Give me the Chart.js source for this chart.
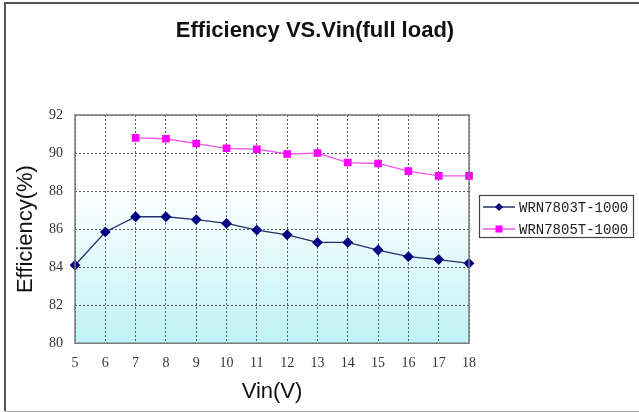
<!DOCTYPE html>
<html>
<head>
<meta charset="utf-8">
<script src="https://cdn.jsdelivr.net/npm/chart.js@4"></script>
<style>
  html, body { margin: 0; padding: 0; background: #fff; }
  #wrap { width: 639px; height: 412px; position: relative; }
</style>
</head>
<body>
<div id="wrap"><canvas id="effChart" width="639" height="412"></canvas></div>
<script>
// data
const chartTitle = 'Efficiency VS.Vin(full load)';
const vinLabels = ['5', '6', '7', '8', '9', '10', '11', '12', '13', '14', '15', '16', '17', '18'];
const wrn7803 = [84.1, 85.85, 86.65, 86.65, 86.5, 86.3, 85.95, 85.7, 85.3, 85.3, 84.9, 84.55, 84.4, 84.2];
const wrn7805 = [null, null, 90.8, 90.75, 90.5, 90.25, 90.2, 89.95, 90.0, 89.5, 89.45, 89.05, 88.8, 88.8];
const yTicks = [80, 82, 84, 86, 88, 90, 92];

const plotDecor = {
  id: 'plotDecor',
  beforeDraw(chart) {
    const ctx = chart.ctx;
    const a = chart.chartArea;
    ctx.save();
    const g = ctx.createLinearGradient(0, a.top, 0, a.bottom);
    g.addColorStop(0, '#ffffff');
    g.addColorStop(0.33, '#ffffff');
    g.addColorStop(1, '#bdf2f6');
    ctx.fillStyle = g;
    ctx.fillRect(a.left, a.top, a.right - a.left, a.bottom - a.top);
    ctx.restore();
  },
  afterDraw(chart) {
    const ctx = chart.ctx;
    const a = chart.chartArea;
    ctx.save();
    // plot frame
    ctx.strokeStyle = '#7a7a7a';
    ctx.lineWidth = 1.5;
    ctx.strokeRect(a.left, a.top, a.right - a.left, a.bottom - a.top);

    // outer frame (left, top, bottom)
    ctx.strokeStyle = '#555';
    ctx.lineWidth = 2;
    ctx.beginPath();
    ctx.moveTo(700, 3);
    ctx.lineTo(5, 3);
    ctx.lineTo(5, 411);
    ctx.stroke();
    ctx.strokeStyle = '#aaa';
    ctx.lineWidth = 1;
    ctx.beginPath();
    ctx.moveTo(5, 411.5);
    ctx.lineTo(639, 411.5);
    ctx.stroke();

    // title
    ctx.fillStyle = '#111';
    ctx.font = 'bold 22px Arial, "Liberation Sans", sans-serif';
    ctx.textAlign = 'center';
    ctx.textBaseline = 'middle';
    ctx.fillText(chartTitle, 315, 31);

    // legend box
    const bx = 479, by = 195, bw = 154, bh = 42;
    ctx.fillStyle = '#fff';
    ctx.fillRect(bx, by, bw, bh);
    ctx.strokeStyle = '#444';
    ctx.lineWidth = 1.2;
    ctx.strokeRect(bx + 0.5, by + 0.5, bw, bh);
    ctx.font = '14px "Liberation Mono", monospace';
    ctx.textAlign = 'left';
    ctx.textBaseline = 'middle';
    chart.data.datasets.forEach((ds, i) => {
      const y = by + 12 + i * 22;
      ctx.strokeStyle = ds.borderColor;
      ctx.lineWidth = 1.5;
      ctx.beginPath();
      ctx.moveTo(bx + 4, y);
      ctx.lineTo(bx + 36, y);
      ctx.stroke();
      ctx.fillStyle = ds.pointBackgroundColor;
      const cx = bx + 20;
      if (ds.pointStyle === 'rectRot') {
        ctx.beginPath();
        ctx.moveTo(cx, y - 4);
        ctx.lineTo(cx + 4, y);
        ctx.lineTo(cx, y + 4);
        ctx.lineTo(cx - 4, y);
        ctx.closePath();
        ctx.fill();
      } else {
        ctx.fillRect(cx - 3.5, y - 3.5, 7, 7);
      }
      ctx.fillStyle = '#222';
      ctx.fillText(ds.label, bx + 40, y + 1);
    });
    ctx.restore();
  }
};

new Chart(document.getElementById('effChart'), {
  type: 'line',
  data: {
    labels: vinLabels,
    datasets: [
      {
        label: 'WRN7803T-1000',
        data: wrn7803,
        borderColor: '#24306e',
        backgroundColor: '#000080',
        pointBackgroundColor: '#000080',
        pointBorderColor: '#000080',
        pointStyle: 'rectRot',
        pointRadius: 4.5,
        borderWidth: 1.3,
        tension: 0
      },
      {
        label: 'WRN7805T-1000',
        data: wrn7805,
        borderColor: '#ee55ee',
        backgroundColor: '#ff00ff',
        pointBackgroundColor: '#ff00ff',
        pointBorderColor: '#ff00ff',
        pointStyle: 'rect',
        pointRadius: 4.5,
        borderWidth: 1.3,
        tension: 0
      }
    ]
  },
  options: {
    responsive: false,
    animation: false,
    layout: { padding: { left: 9, right: 170, top: 115, bottom: 4 } },
    plugins: {
      legend: { display: false },
      tooltip: { enabled: false },
      title: { display: false }
    },
    scales: {
      x: {
        offset: false,
        grid: { color: '#555', lineWidth: 1, drawTicks: false },
        border: { display: false, dash: [2, 2] },
        ticks: { color: '#333', padding: 12, font: { family: '"Liberation Serif", serif', size: 14 } },
        title: {
          display: true, text: 'Vin(V)', color: '#111',
          font: { family: 'Arial, "Liberation Sans", sans-serif', size: 22, lineHeight: '16px' },
          padding: { top: 0, bottom: 8 }
        }
      },
      y: {
        min: 80,
        max: 92,
        afterBuildTicks: (axis) => { axis.ticks = yTicks.map(v => ({ value: v })); },
        grid: { color: '#555', lineWidth: 1, drawTicks: false },
        border: { display: false, dash: [2, 2] },
        ticks: { color: '#333', padding: 12, font: { family: '"Liberation Serif", serif', size: 14 } },
        title: {
          display: true, text: 'Efficiency(%)', color: '#111',
          font: { family: 'Arial, "Liberation Sans", sans-serif', size: 22, lineHeight: 1.0 },
          padding: { top: 6, bottom: 0 }
        }
      }
    }
  },
  plugins: [plotDecor]
});
</script>
</body>
</html>
